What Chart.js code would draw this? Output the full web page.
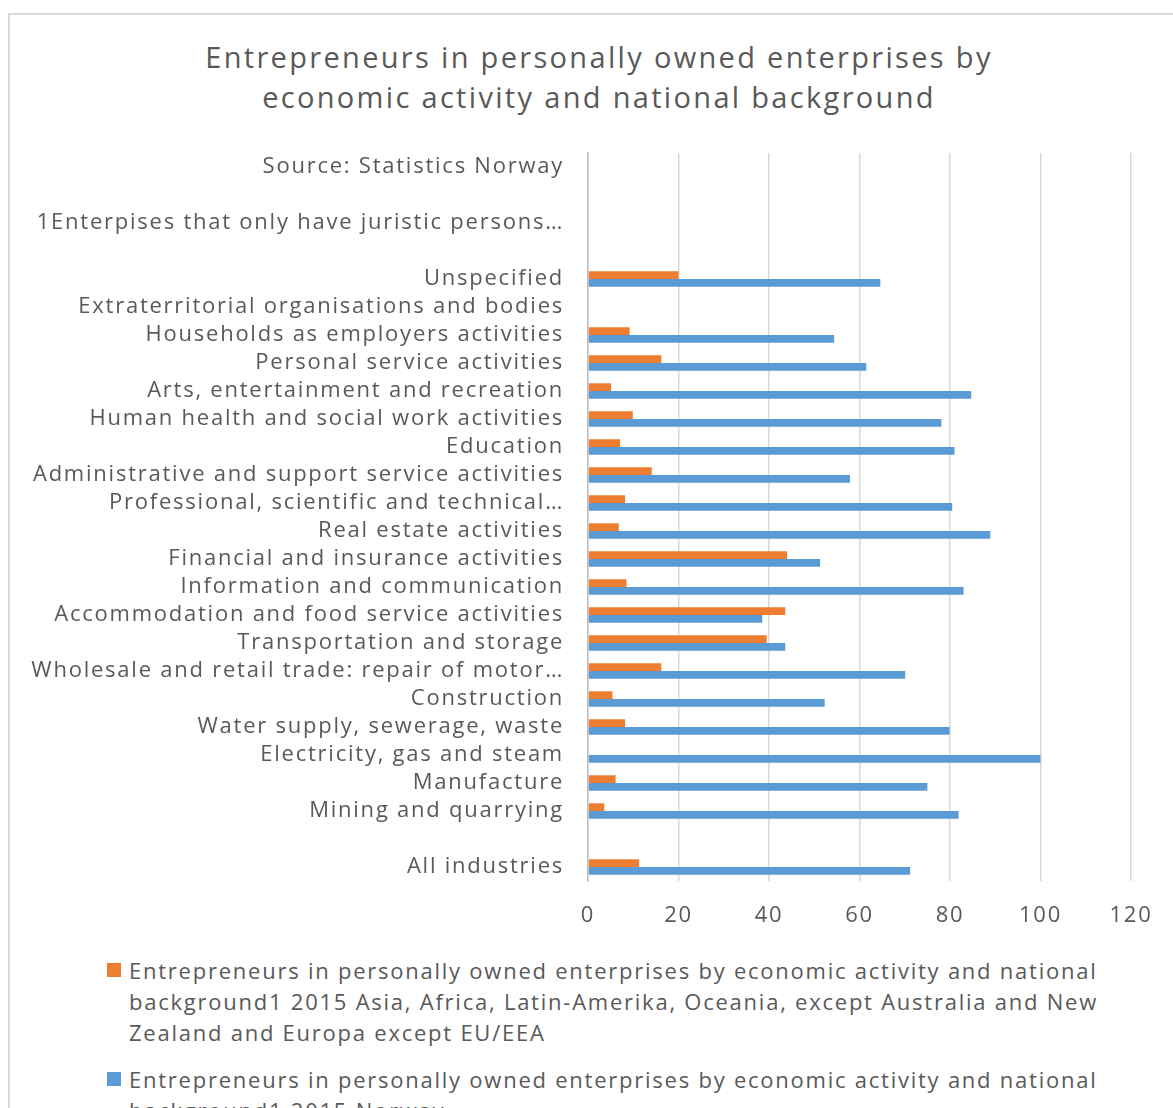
<!DOCTYPE html>
<html lang="en">
<head>
  <meta charset="UTF-8">
  <title>Entrepreneurs by economic activity and national background</title>
  <script src="https://cdn.jsdelivr.net/npm/chart.js"></script>
  <style>
    body {
      margin: 0;
      background: #ffffff;
      width: 1173px;
      height: 1108px;
      overflow: hidden;
      position: relative;
      font-family: 'Open Sans', sans-serif;
      color: #595959;
    }
    .frame {
      position: absolute;
      left: 8px;
      top: 13px;
      width: 1200px;
      height: 1200px;
      border: 2px solid #d9d9d9;
      box-sizing: border-box;
    }
    #title {
      position: absolute;
      left: 0;
      top: 37px;
      width: 1198px;
      text-align: center;
      font-size: 29px;
      line-height: 40px;
      letter-spacing: 2.32px;
    }
    .chart-box {
      position: absolute;
      left: 10px;
      top: 14px;
      width: 1163px;
      height: 926px;
    }
    #legend {
      position: absolute;
      left: 107px;
      top: 955px;
      font-size: 22px;
      line-height: 31px;
      letter-spacing: 1.76px;
    }
    .legend-item {
      display: flex;
      align-items: flex-start;
      margin-bottom: 16px;
    }
    .legend-swatch {
      width: 14px;
      height: 14px;
      margin-top: 8px;
      margin-right: 8px;
      flex: none;
    }
    .legend-text {
      white-space: nowrap;
    }
  </style>
</head>
<body>
  <div class="frame"></div>
  <div id="title"></div>
  <div class="chart-box">
    <canvas id="chart"></canvas>
  </div>
  <div id="legend"></div>

  <script>
    // categories from top to bottom, as shown in the chart
    const categories = [
      'Source: Statistics Norway',
      '',
      '1Enterpises that only have juristic persons…',
      '',
      'Unspecified',
      'Extraterritorial organisations and bodies',
      'Households as employers activities',
      'Personal service activities',
      'Arts, entertainment and recreation',
      'Human health and social work activities',
      'Education',
      'Administrative and support service activities',
      'Professional, scientific and technical…',
      'Real estate activities',
      'Financial and insurance activities',
      'Information and communication',
      'Accommodation and food service activities',
      'Transportation and storage',
      'Wholesale and retail trade: repair of motor…',
      'Construction',
      'Water supply, sewerage, waste',
      'Electricity, gas and steam',
      'Manufacture',
      'Mining and quarrying',
      '',
      'All industries'
    ];

    // Asia, Africa, Latin-America ... (orange)
    const asiaAfricaValues = [
      null, null, null, null,
      20.0, null, 9.2, 16.2, 5.1, 9.9, 7.1, 14.1, 8.2, 6.8, 44.0, 8.5,
      43.6, 39.5, 16.2, 5.4, 8.2, null, 6.1, 3.6,
      null, 11.3
    ];

    // Norway (blue)
    const norwayValues = [
      null, null, null, null,
      64.6, null, 54.4, 61.5, 84.7, 78.1, 81.0, 57.9, 80.5, 88.9, 51.3, 83.0,
      38.5, 43.6, 70.1, 52.3, 79.9, 100, 75.0, 81.9,
      null, 71.2
    ];

    const xTicks = [0, 20, 40, 60, 80, 100, 120];

    const titleLines = [
      'Entrepreneurs in personally owned enterprises by',
      'economic activity and national background'
    ];

    const seriesNames = [
      [
        'Entrepreneurs in personally owned enterprises by economic activity and national',
        'background1 2015 Asia, Africa, Latin-Amerika, Oceania, except Australia and New',
        'Zealand and Europa except EU/EEA'
      ],
      [
        'Entrepreneurs in personally owned enterprises by economic activity and national',
        'background1 2015 Norway'
      ]
    ];

    const seriesColors = ['#ED7D31', '#5B9BD5'];

    Chart.defaults.font.family = "'Open Sans', sans-serif";
    Chart.defaults.color = '#595959';

    // the original text is a bit wider than Open Sans, so space the letters out a little
    const canvas = document.getElementById('chart');
    const ctx = canvas.getContext('2d');
    const origFillText = ctx.fillText.bind(ctx);
    ctx.fillText = function (text, x, y, maxWidth) {
      const m = /(\d+(\.\d+)?)px/.exec(ctx.font);
      ctx.letterSpacing = m ? (parseFloat(m[1]) * 0.08).toFixed(2) + 'px' : '0px';
      return maxWidth === undefined ? origFillText(text, x, y) : origFillText(text, x, y, maxWidth);
    };

    // title sits centred over the whole frame, not over the plot
    document.getElementById('title').innerHTML = titleLines.join('<br>');

    const chart = new Chart(canvas, {
      type: 'bar',
      data: {
        labels: categories,
        datasets: [
          {
            label: seriesNames[0].join(' '),
            data: asiaAfricaValues,
            backgroundColor: seriesColors[0],
            categoryPercentage: 0.55,
            barPercentage: 1.0
          },
          {
            label: seriesNames[1].join(' '),
            data: norwayValues,
            backgroundColor: seriesColors[1],
            categoryPercentage: 0.55,
            barPercentage: 1.0
          }
        ]
      },
      options: {
        indexAxis: 'y',
        responsive: true,
        maintainAspectRatio: false,
        animation: false,
        layout: {
          padding: { left: 0, right: 42, top: 139, bottom: 0 }
        },
        plugins: {
          legend: { display: false },
          tooltip: { enabled: false },
          title: { display: false }
        },
        scales: {
          x: {
            min: xTicks[0],
            max: xTicks[xTicks.length - 1],
            ticks: {
              stepSize: xTicks[1] - xTicks[0],
              padding: 22,
              color: '#595959',
              font: { size: 22 }
            },
            grid: {
              color: '#d9d9d9',
              lineWidth: 1.5,
              drawTicks: false
            },
            border: { display: false },
            afterFit: (scale) => { scale.height = 59; }
          },
          y: {
            ticks: {
              padding: 24,
              autoSkip: false,
              color: '#595959',
              font: { size: 22 }
            },
            grid: { display: false, drawTicks: false },
            border: { display: true, color: '#bfbfbf', width: 1.5 },
            afterFit: (scale) => { scale.width = 578; }
          }
        }
      }
    });

    // HTML legend so the long series names wrap like the original
    const legendEl = document.getElementById('legend');
    seriesNames.forEach((lines, i) => {
      const item = document.createElement('div');
      item.className = 'legend-item';
      item.innerHTML = `
        <div class="legend-swatch" style="background:${seriesColors[i]}"></div>
        <div class="legend-text">${lines.join('<br>')}</div>
      `;
      legendEl.appendChild(item);
    });
  </script>
</body>
</html>
